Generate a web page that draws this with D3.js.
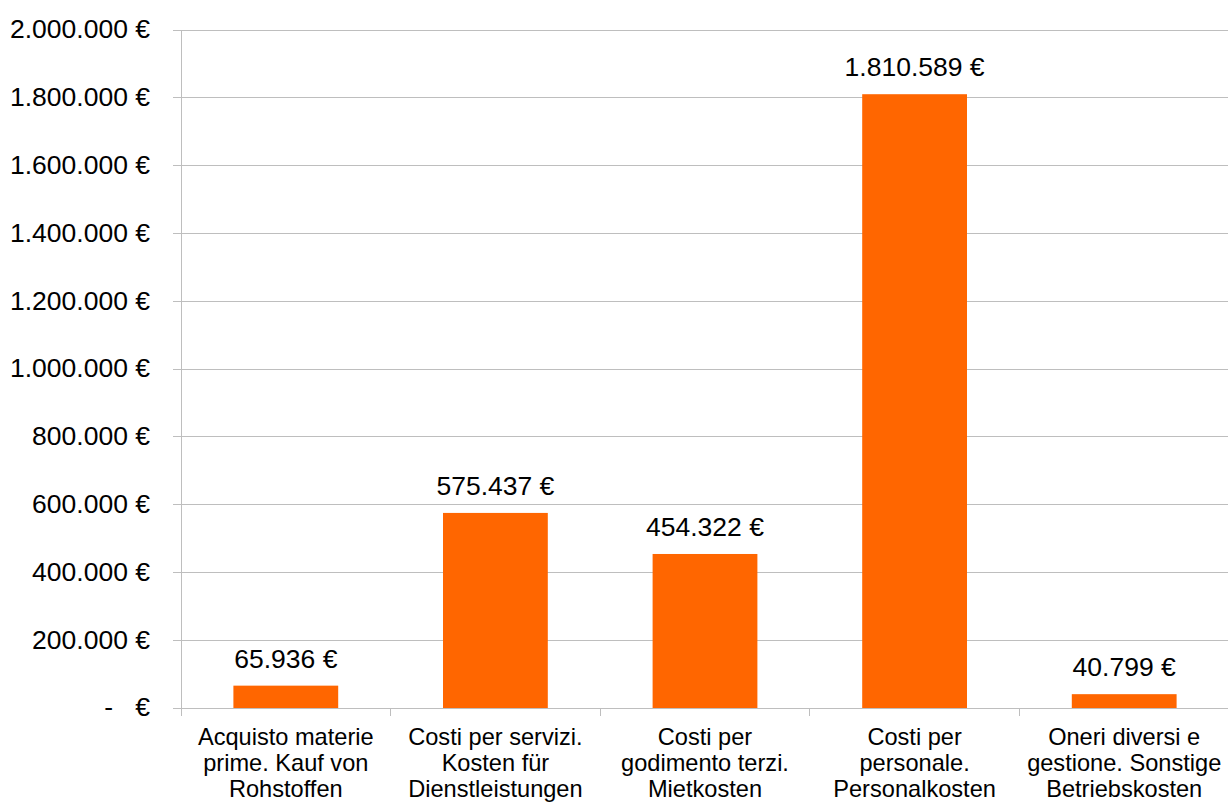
<!DOCTYPE html>
<html><head><meta charset="utf-8">
<script src="https://cdn.jsdelivr.net/npm/d3@7"></script>
<style>body{margin:0;background:#fff}svg{display:block;font-family:"Liberation Sans",Arial,sans-serif}</style>
</head><body><svg id="c" width="1228" height="804"></svg>
<script>
const categories = [
  ["Acquisto materie","prime. Kauf von","Rohstoffen"],
  ["Costi per servizi.","Kosten für","Dienstleistungen"],
  ["Costi per","godimento terzi.","Mietkosten"],
  ["Costi per","personale.","Personalkosten"],
  ["Oneri diversi e","gestione. Sonstige","Betriebskosten"]
];
const values = [65936, 575437, 454322, 1810589, 40799];
const valueLabels = ["65.936 €","575.437 €","454.322 €","1.810.589 €","40.799 €"];
const yTicks = [0,200000,400000,600000,800000,1000000,1200000,1400000,1600000,1800000,2000000];
const yTickLabels = ["-   €","200.000 €","400.000 €","600.000 €","800.000 €","1.000.000 €","1.200.000 €","1.400.000 €","1.600.000 €","1.800.000 €","2.000.000 €"];

const svg = d3.select("#c");
const mLeft = 181, mRight = 1229, mTop = 30, mBottom = 708;
const x = d3.scaleBand().domain(d3.range(values.length)).range([mLeft, mRight]).paddingInner(0).paddingOuter(0);
const y = d3.scaleLinear().domain([0, 2000000]).range([mBottom, mTop]);
const grid = "#BEBEBE";

svg.append("g").selectAll("line").data(yTicks).join("line")
  .attr("x1", mLeft - 8).attr("x2", mRight).attr("y1", d => y(d)).attr("y2", d => y(d))
  .attr("stroke", grid).attr("stroke-width", 1).attr("shape-rendering","crispEdges");
svg.append("line").attr("x1", mLeft).attr("x2", mLeft).attr("y1", mTop).attr("y2", mBottom + 8)
  .attr("stroke", grid).attr("shape-rendering","crispEdges");
svg.append("g").selectAll("line").data(d3.range(1, values.length)).join("line")
  .attr("x1", i => x(i)).attr("x2", i => x(i)).attr("y1", mBottom).attr("y2", mBottom + 8)
  .attr("stroke", grid).attr("shape-rendering","crispEdges");

svg.append("g").selectAll("text").data(yTicks).join("text")
  .attr("x", 150).attr("y", d => y(d)).attr("dy", "0.32em")
  .attr("text-anchor", "end").attr("font-size", 26.5).attr("fill", "#000")
  .style("white-space", "pre")
  .text((d, i) => yTickLabels[i]);

const bw = x.bandwidth() * 0.5;
svg.append("g").selectAll("rect").data(values).join("rect")
  .attr("x", (d, i) => x(i) + (x.bandwidth() - bw) / 2)
  .attr("width", bw)
  .attr("y", d => y(d)).attr("height", d => mBottom - y(d))
  .attr("fill", "#FF6600");

svg.append("g").selectAll("text").data(values).join("text")
  .attr("x", (d, i) => x(i) + x.bandwidth() / 2)
  .attr("y", d => y(d) - 18)
  .attr("text-anchor", "middle").attr("font-size", 26.5).attr("fill", "#000")
  .text((d, i) => valueLabels[i]);

const cg = svg.append("g").selectAll("text").data(categories).join("text")
  .attr("text-anchor", "middle").attr("font-size", 23.6).attr("fill", "#000");
cg.each(function(lines, i) {
  const t = d3.select(this);
  lines.forEach((ln, j) => {
    t.append("tspan").attr("x", x(i) + x.bandwidth() / 2).attr("y", 745 + j * 26).text(ln);
  });
});
</script></body></html>
